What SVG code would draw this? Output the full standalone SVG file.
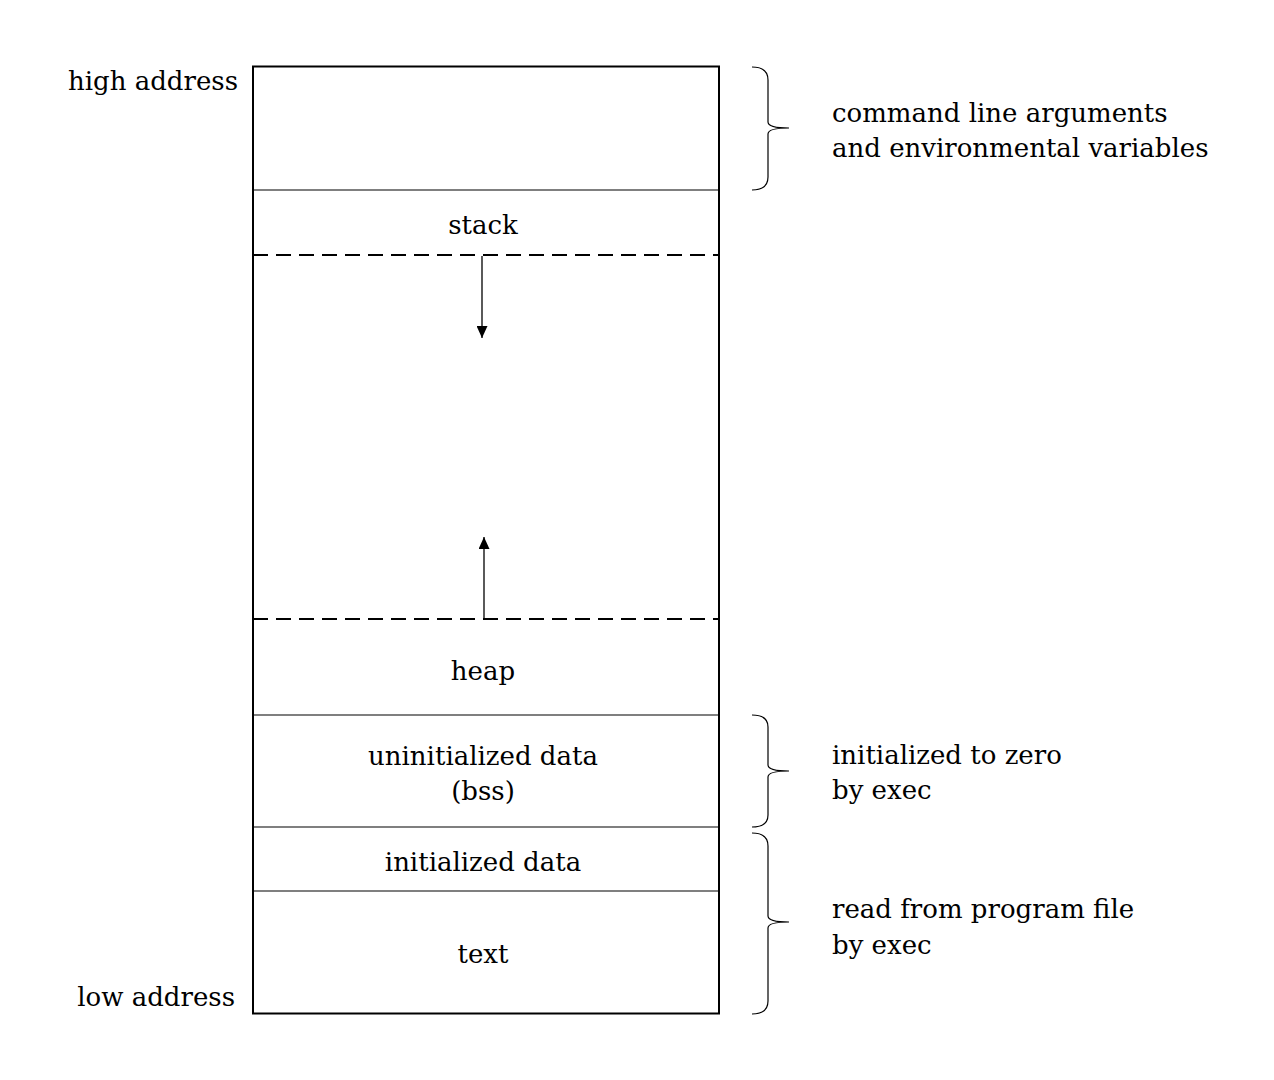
<svg xmlns="http://www.w3.org/2000/svg" width="1274" height="1080" viewBox="0 0 1274 1080">
<style>
text{font-family:"DejaVu Serif","Liberation Serif",serif;font-size:26px;fill:#000}
.c{text-anchor:middle}
.r{text-anchor:end}
.div{stroke:#000;stroke-width:1.2;fill:none}
.dash{stroke:#000;stroke-width:2;stroke-dasharray:15 8;fill:none}
.br{stroke:#000;stroke-width:1.2;fill:none}
.ar{stroke:#000;stroke-width:1.3;fill:none}
</style>
<defs>
<marker id="ah" viewBox="0 0 12 11" refX="12" refY="5.5" markerWidth="12" markerHeight="11" markerUnits="userSpaceOnUse" orient="auto"><path d="M0,0 L12,5.5 L0,11 Z" fill="#000"/></marker>
</defs>
<rect width="1274" height="1080" fill="#fff"/>
<g id="memory">
<rect x="253" y="66.5" width="466" height="947" fill="none" stroke="#000" stroke-width="2"/>
</g>
<g id="stack"><line class="div" x1="253" y1="190" x2="719" y2="190"/><text class="c" x="483" y="234">stack</text></g>
<g id="gap"><line class="dash" x1="253" y1="255" x2="719" y2="255"/><line class="dash" x1="253" y1="619" x2="719" y2="619"/></g>
<g id="heap"><text class="c" x="483" y="680">heap</text></g>
<g id="bss"><line class="div" x1="253" y1="715" x2="719" y2="715"/><text class="c" x="483" y="765">uninitialized data</text><text class="c" x="483" y="800">(bss)</text></g>
<g id="data"><line class="div" x1="253" y1="827" x2="719" y2="827"/><text class="c" x="483" y="871">initialized data</text></g>
<g id="text"><line class="div" x1="253" y1="891" x2="719" y2="891"/><text class="c" x="483" y="963">text</text></g>
<g id="labels">
<text class="r" x="238" y="90">high address</text>
<text class="r" x="235" y="1006">low address</text>
<text x="832" y="122">command line arguments</text>
<text x="832" y="157">and environmental variables</text>
<text x="832" y="764">initialized to zero</text>
<text x="832" y="799">by exec</text>
<text x="832" y="918">read from program file</text>
<text x="832" y="954">by exec</text>
</g>
<g id="connectors">
<line class="ar" x1="482" y1="256" x2="482" y2="338" marker-end="url(#ah)"/>
<line class="ar" x1="484" y1="619" x2="484" y2="537" marker-end="url(#ah)"/>
<path class="br" d="M752,67 Q768,67 768,80 L768,122 Q768,128 789,128 Q768,128 768,134 L768,177 Q768,190 752,190"/>
<path class="br" d="M752,715 Q768,715 768,727 L768,765 Q768,771 789,771 Q768,771 768,777 L768,815 Q768,827 752,827"/>
<path class="br" d="M752,833 Q768,833 768,846 L768,916 Q768,922 789,922 Q768,922 768,928 L768,1001 Q768,1014 752,1014"/>
</g>
</svg>
